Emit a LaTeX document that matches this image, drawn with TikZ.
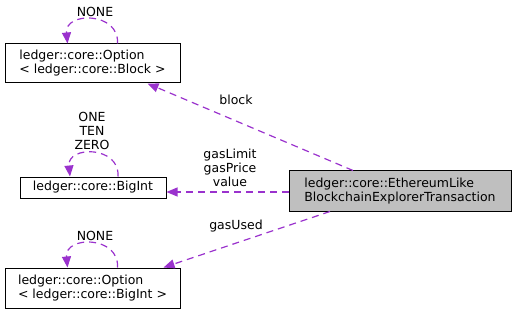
\documentclass[tikz,border=0pt]{standalone}
\usepackage{fontspec}
\setmainfont{DejaVu Sans}
\usetikzlibrary{arrows.meta}
\definecolor{edgecol}{HTML}{9A32CD}
\definecolor{mainfill}{HTML}{BFBFBF}
\tikzset{
  classbox/.style={draw=black, fill=white, line width=1pt, inner sep=0pt,
    align=left, font=\fontsize{12.5}{14}\selectfont},
  mainbox/.style={classbox, fill=mainfill},
  member/.style={draw=edgecol, dashed, dash pattern=on 7pt off 5pt, line width=1.2pt,
    -{Triangle[length=11pt,width=9pt,fill=edgecol]}},
  lbl/.style={align=center, inner sep=0pt, font=\fontsize{12.5}{14}\selectfont}
}
\begin{document}
\begin{tikzpicture}[x=1pt,y=-1pt]
  \useasboundingbox (0,0) rectangle (516,315);
  % classes
  \node[classbox, minimum width=175pt, minimum height=39pt] (optblock) at (92.5,63.5)
    {ledger::core::Option\\< ledger::core::Block >};
  \node[classbox, minimum width=146pt, minimum height=21pt] (bigint) at (93,187.5)
    {ledger::core::BigInt};
  \node[classbox, minimum width=175pt, minimum height=40pt] (optbigint) at (92.5,288)
    {ledger::core::Option\\< ledger::core::BigInt >};
  \node[mainbox, minimum width=222pt, minimum height=40pt] (tx) at (400,191)
    {ledger::core::EthereumLike\\BlockchainExplorerTransaction};

  % member relations
  \draw[member] ([xshift=-47pt]tx.north) -- ([xshift=55pt]optblock.south);
  \node[lbl] (lblock) at (236,100) {block};
  \draw[member] ([yshift=-1pt]tx.west) -- ([yshift=-1pt]bigint.east |- tx.west);
  \node[lbl] (lgas) at (230,168) {gasLimit\\gasPrice\\value};
  \draw[member] ([xshift=-70pt]tx.south) -- ([xshift=71pt]optbigint.north);
  \node[lbl] (lused) at (236,226) {gasUsed};

  % self references
  \draw[member] ([xshift=25pt]optblock.north) .. controls +(2,-32) and +(-3,-32) .. ([xshift=-25pt]optblock.north);
  \node[lbl] (lnone1) at (95,12) {NONE};
  \draw[member] ([xshift=25pt]bigint.north) .. controls +(2,-31) and +(-3,-31) .. ([xshift=-23pt]bigint.north);
  \node[lbl] (lconst) at (92,131) {ONE\\TEN\\ZERO};
  \draw[member] ([xshift=25pt]optbigint.north) .. controls +(2,-32) and +(-3,-32) .. ([xshift=-25pt]optbigint.north);
  \node[lbl] (lnone2) at (95,236) {NONE};
\end{tikzpicture}
\end{document}
